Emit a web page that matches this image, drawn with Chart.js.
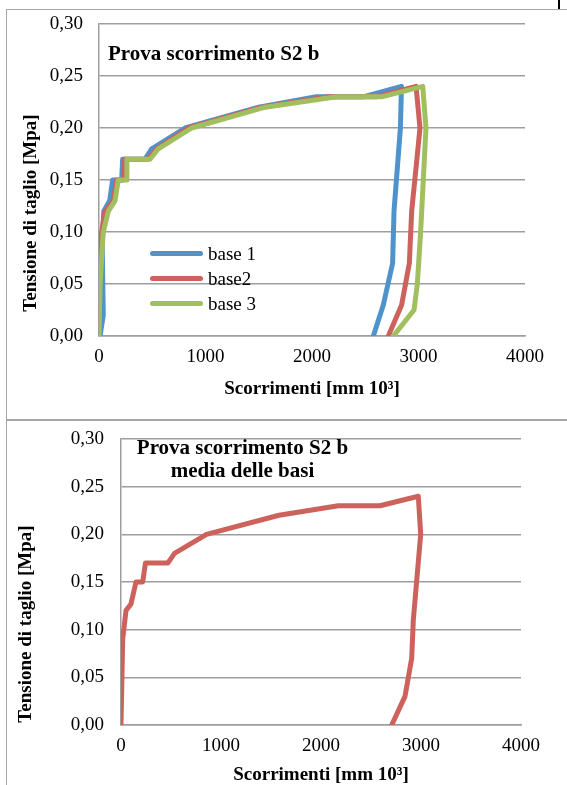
<!DOCTYPE html>
<html>
<head>
<meta charset="utf-8">
<script src="https://cdn.jsdelivr.net/npm/chart.js@4/dist/chart.umd.min.js"></script>
<style>
  body { margin:0; background:#fff; width:567px; height:785px; position:relative; overflow:hidden;
         font-family:"Liberation Serif","Times New Roman",serif; color:#000; }
  .rule { position:absolute; background:#a6a6a6; }
  .box { position:absolute; left:0; }
  .ctitle { position:absolute; font-weight:bold; font-size:21px; line-height:23px; white-space:nowrap; }
  .ytitle { position:absolute; font-weight:bold; font-size:19px; line-height:19px; white-space:nowrap;
            transform:translate(-50%,-50%) rotate(-90deg); }
  .legend { position:absolute; font-size:19px; }
  .legend div { height:25px; display:flex; align-items:center; }
  .legend .sw { display:inline-block; width:53px; height:5px; border-radius:3px; margin-right:5px; }
</style>
</head>
<body>
<div class="rule" style="left:6px;top:9px;width:1px;height:776px"></div>
<div class="rule" style="left:6px;top:9px;width:561px;height:1px"></div>
<div class="rule" style="left:6px;top:419px;width:561px;height:2px"></div>
<div style="position:absolute;left:558px;top:0;width:2px;height:9px;background:#000"></div>

<div class="box" style="top:0"><canvas id="top" width="567" height="419"></canvas></div>
<div class="box" style="top:419px"><canvas id="bottom" width="567" height="366"></canvas></div>

<div class="ctitle" style="left:108px;top:42px">Prova scorrimento S2 b</div>
<div class="ctitle" style="left:136px;top:436px;width:213px;text-align:center">Prova scorrimento S2 b<br>media delle basi</div>
<div class="ytitle" style="left:29px;top:213px">Tensione di taglio [Mpa]</div>
<div class="ytitle" style="left:24px;top:624px">Tensione di taglio [Mpa]</div>

<div class="legend" style="left:150px;top:241px">
  <div><span class="sw" style="background:#4f93cc"></span>base 1</div>
  <div><span class="sw" style="background:#cd625c"></span>base2</div>
  <div><span class="sw" style="background:#a2bf5f"></span>base 3</div>
</div>

<script>
// valori (scorrimenti in mm 10^3, tensione in MPa)
const base1X = [10, 40, 30, 45, 100, 128, 213, 222, 432, 495, 808, 1500, 2040, 2480, 2840, 2830, 2770, 2757, 2670, 2576];
const base1Y = [0, 0.02, 0.09, 0.12, 0.13, 0.15, 0.15, 0.17, 0.17, 0.18, 0.20, 0.22, 0.23, 0.23, 0.24, 0.20, 0.12, 0.07, 0.03, 0];
const base2X = [0, 10, 56, 134, 166, 228, 240, 460, 541, 839, 1530, 2150, 2600, 2977, 3014, 2936, 2914, 2842, 2717];
const base2Y = [0, 0.09, 0.12, 0.13, 0.15, 0.15, 0.17, 0.17, 0.18, 0.20, 0.22, 0.23, 0.23, 0.24, 0.20, 0.12, 0.07, 0.03, 0];
const base3X = [0, 10, 40, 88, 150, 181, 255, 262, 479, 557, 870, 1560, 2230, 2654, 3040, 3070, 3020, 2989, 2958, 2764];
const base3Y = [0, 0.05, 0.10, 0.12, 0.13, 0.15, 0.15, 0.17, 0.17, 0.18, 0.20, 0.22, 0.23, 0.23, 0.24, 0.20, 0.10, 0.05, 0.025, 0];
const mediaX = [0, 17, 50, 100, 150, 217, 245, 470, 535, 855, 1580, 2173, 2590, 2973, 2997, 2923, 2907, 2840, 2707];
const mediaY = [0, 0.09, 0.12, 0.127, 0.15, 0.15, 0.17, 0.17, 0.18, 0.20, 0.22, 0.23, 0.23, 0.24, 0.20, 0.11, 0.07, 0.03, 0];
const xTicks = [0, 1000, 2000, 3000, 4000];
const yTicks = [0, 0.05, 0.10, 0.15, 0.20, 0.25, 0.30];

const BLUE = '#4f93cc', RED = '#cd625c', GREEN = '#a2bf5f', GRID = '#9e9e9e';
Chart.defaults.font.family = "'Liberation Serif', 'Times New Roman', serif";
Chart.defaults.color = '#000';

function pts(xs, ys){ return xs.map((x,i)=>({x:x, y:ys[i]})); }

function line(label, xs, ys, color, order){
  return { label, data: pts(xs, ys), showLine:true, borderColor:color, backgroundColor:color,
           borderWidth:5, pointRadius:0, borderCapStyle:'round', borderJoinStyle:'round', order };
}

function makeChart(id, datasets, o){
  return new Chart(document.getElementById(id), {
    type: 'scatter',
    data: { datasets },
    options: {
      responsive:false, animation:false, devicePixelRatio:1,
      layout: { padding: { left:0, top:o.top, right:o.right, bottom:0 } },
      plugins: { legend:{display:false}, tooltip:{enabled:false} },
      scales: {
        x: {
          type:'linear', min:0, max:4000,
          afterBuildTicks: s => { s.ticks = xTicks.map(v=>({value:v})); },
          afterFit: s => { s.height = o.xh; s.paddingLeft = 0; s.paddingRight = 0; },
          grid: { display:false, drawTicks:false },
          border: { display:true, color:GRID, width:1.5 },
          ticks: { font:{size:19}, padding:10, maxRotation:0, callback: v => String(v) },
          title: { display:true, text:'Scorrimenti [mm 10³]', font:{size:19, weight:'bold', lineHeight:1},
                   padding:{top:0, bottom:o.tpad} }
        },
        y: {
          min:0, max:0.3,
          afterBuildTicks: s => { s.ticks = yTicks.map(v=>({value:v})); },
          afterFit: s => { s.width = o.yw; s.paddingTop = 0; s.paddingBottom = 0; },
          grid: { color:GRID, lineWidth:1.5, drawTicks:false },
          border: { display:true, color:GRID, width:1.5 },
          ticks: { font:{size:19}, padding:o.ypad, callback: v => v.toFixed(2).replace('.', ',') }
        }
      }
    }
  });
}

makeChart('top', [
  line('base 1', base1X, base1Y, BLUE, 3),
  line('base2', base2X, base2Y, RED, 2),
  line('base 3', base3X, base3Y, GREEN, 1)
], { top:24, right:42, xh:83, yw:99, ypad:16, tpad:20 });

makeChart('bottom', [
  line('media', mediaX, mediaY, RED, 1)
], { top:20, right:46, xh:60, yw:121, ypad:17, tpad:0 });
</script>
</body>
</html>
